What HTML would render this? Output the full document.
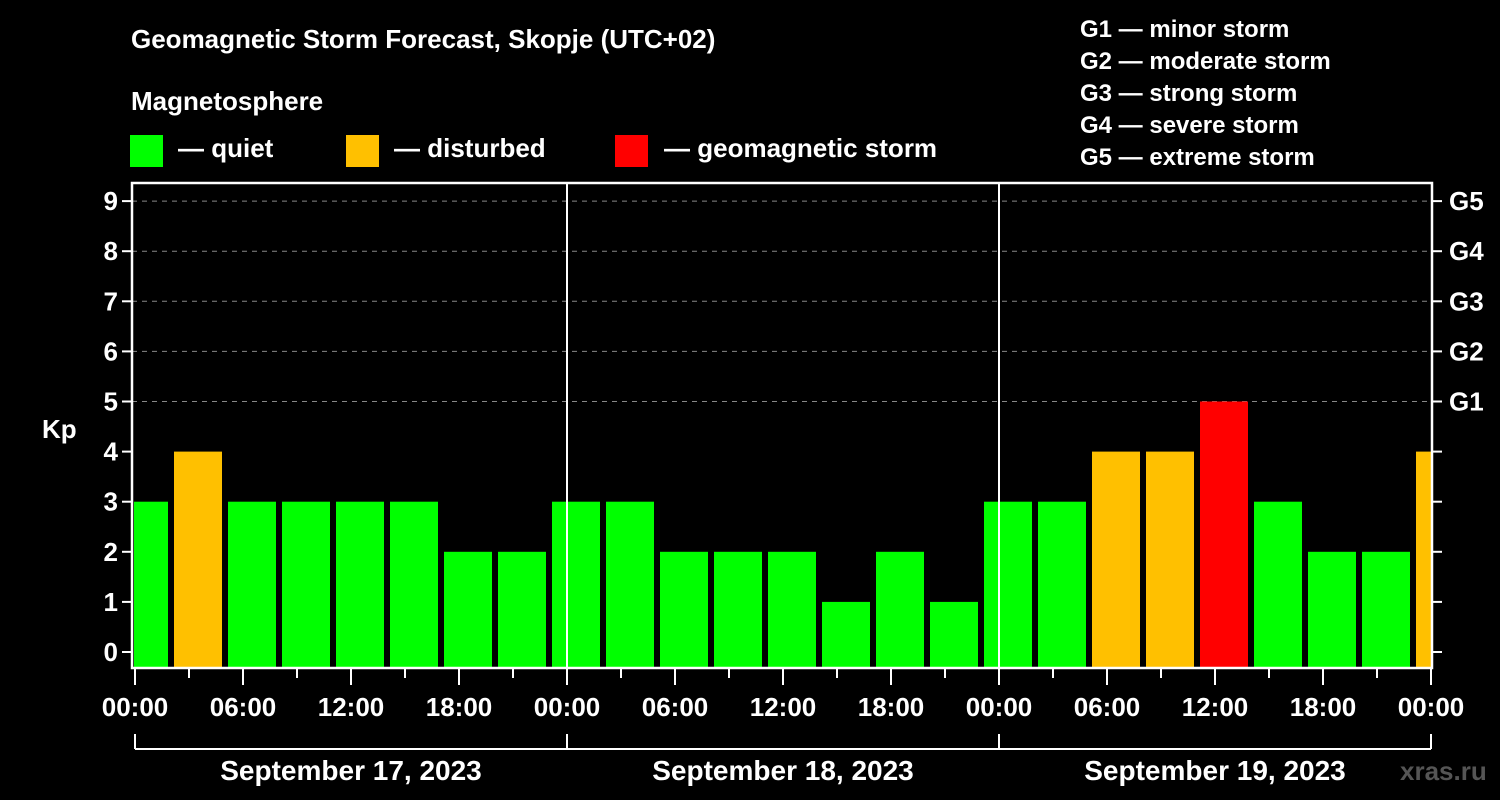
<!DOCTYPE html>
<html><head><meta charset="utf-8"><style>
html,body{margin:0;padding:0;background:#000;}
svg{display:block;}
text{font-family:"Liberation Sans",Arial,sans-serif;font-weight:bold;fill:#fff;}
</style></head><body>
<svg id="chart" width="1500" height="800" viewBox="0 0 1500 800" xmlns="http://www.w3.org/2000/svg">
<rect width="1500" height="800" fill="#000"/>
<text x="131" y="48" font-size="26">Geomagnetic Storm Forecast, Skopje (UTC+02)</text>
<text x="131" y="110" font-size="26">Magnetosphere</text>
<g>
<g><rect x="130" y="135" width="33" height="32" fill="#00ff00"/><text x="178" y="157" font-size="26">— quiet</text></g>
<g><rect x="346" y="135" width="33" height="32" fill="#ffc000"/><text x="394" y="157" font-size="26">— disturbed</text></g>
<g><rect x="615" y="135" width="33" height="32" fill="#ff0000"/><text x="664" y="157" font-size="26">— geomagnetic storm</text></g>
</g>
<g font-size="24">
<text x="1080" y="37">G1 — minor storm</text>
<text x="1080" y="69">G2 — moderate storm</text>
<text x="1080" y="101">G3 — strong storm</text>
<text x="1080" y="133">G4 — severe storm</text>
<text x="1080" y="165">G5 — extreme storm</text>
</g>
<text x="42" y="438" font-size="26">Kp</text>
<text x="1400" y="780" font-size="26" fill="#555" style="fill:#555">xras.ru</text>
<g id="grid"></g>
<g id="bars"></g>
<g id="axes"></g>
</svg>
<script>
const kpValues = [3,4,3,3,3,3,2,2, 3,3,2,2,2,1,2,1, 3,3,4,4,5,3,2,2, 4];
const yTicks = [0,1,2,3,4,5,6,7,8,9];
const gLabels = ["G1","G2","G3","G4","G5"];
const hourLabels = ["00:00","06:00","12:00","18:00"];
const dayLabels = ["September 17, 2023","September 18, 2023","September 19, 2023"];

const NS="http://www.w3.org/2000/svg";
const L=132,R=1432,T=183,B=668,X0=135,PXH=18;
const xH=h=>X0+h*PXH;
const yK=k=>652-k*50.1;
function mk(tag,attrs,parent){const e=document.createElementNS(NS,tag);for(const k in attrs)e.setAttribute(k,attrs[k]);parent.appendChild(e);return e;}
const grid=document.getElementById('grid'),bars=document.getElementById('bars'),axes=document.getElementById('axes');

// gridlines
for(let k=5;k<=9;k++){
  const g=mk('line',{x1:L,x2:R,y1:yK(k),y2:yK(k),stroke:'#888','stroke-dasharray':'5,5','stroke-width':1},grid);
  
  
}
// bars
const clip=mk('clipPath',{id:'pc'},bars);mk('rect',{x:L+2,y:T,width:R-L-3,height:B-T},clip);
const bg=mk('g',{'clip-path':'url(#pc)'},bars);
kpValues.forEach((v,i)=>{
  const c=xH(0.5+3*i);
  const col=v>=5?'#ff0000':(v>=4?'#ffc000':'#00ff00');
  const r=mk('rect',{x:c-24,y:yK(v),width:48,height:B-yK(v),fill:col},bg);
  
  
});
// day separators
[1,2].forEach(d=>{
  const l=mk('line',{x1:xH(24*d),x2:xH(24*d),y1:T,y2:B,stroke:'#fff','stroke-width':2},axes);
  
  
});
// frame
const f=mk('rect',{x:L,y:T,width:R-L,height:B-T,fill:'none',stroke:'#fff','stroke-width':2.5},axes);


// y ticks
yTicks.forEach(k=>{
  mk('line',{x1:L-10,x2:L,y1:yK(k),y2:yK(k),stroke:'#fff','stroke-width':2},axes);
  mk('line',{x1:R,x2:R+10,y1:yK(k),y2:yK(k),stroke:'#fff','stroke-width':2},axes);
  const t=mk('text',{x:L-14,y:yK(k)+9,'font-size':26,'text-anchor':'end'},axes);
  t.textContent=k;
  
  
});
gLabels.forEach((g,i)=>{
  const t=mk('text',{x:R+17,y:yK(5+i)+9,'font-size':26},axes);
  t.textContent=g;
  
  
});
// x ticks
for(let h=0;h<=72;h+=3){
  const major=h%6===0;
  mk('line',{x1:xH(h),x2:xH(h),y1:B,y2:major?685:678,stroke:'#fff','stroke-width':2},axes);
  if(major){
    const t=mk('text',{x:xH(h),y:716,'font-size':26,'text-anchor':'middle'},axes);
    t.textContent=hourLabels[(h/6)%4];
    
    
  }
}
// day bracket
mk('line',{x1:xH(0),x2:xH(72),y1:749,y2:749,stroke:'#fff','stroke-width':2},axes);
for(let d=0;d<=3;d++)mk('line',{x1:xH(24*d),x2:xH(24*d),y1:734,y2:749,stroke:'#fff','stroke-width':2},axes);
dayLabels.forEach((s,d)=>{
  const t=mk('text',{x:xH(24*d+12),y:780,'font-size':28,'text-anchor':'middle'},axes);
  t.textContent=s;
  
  
});
</script>
</body></html>
